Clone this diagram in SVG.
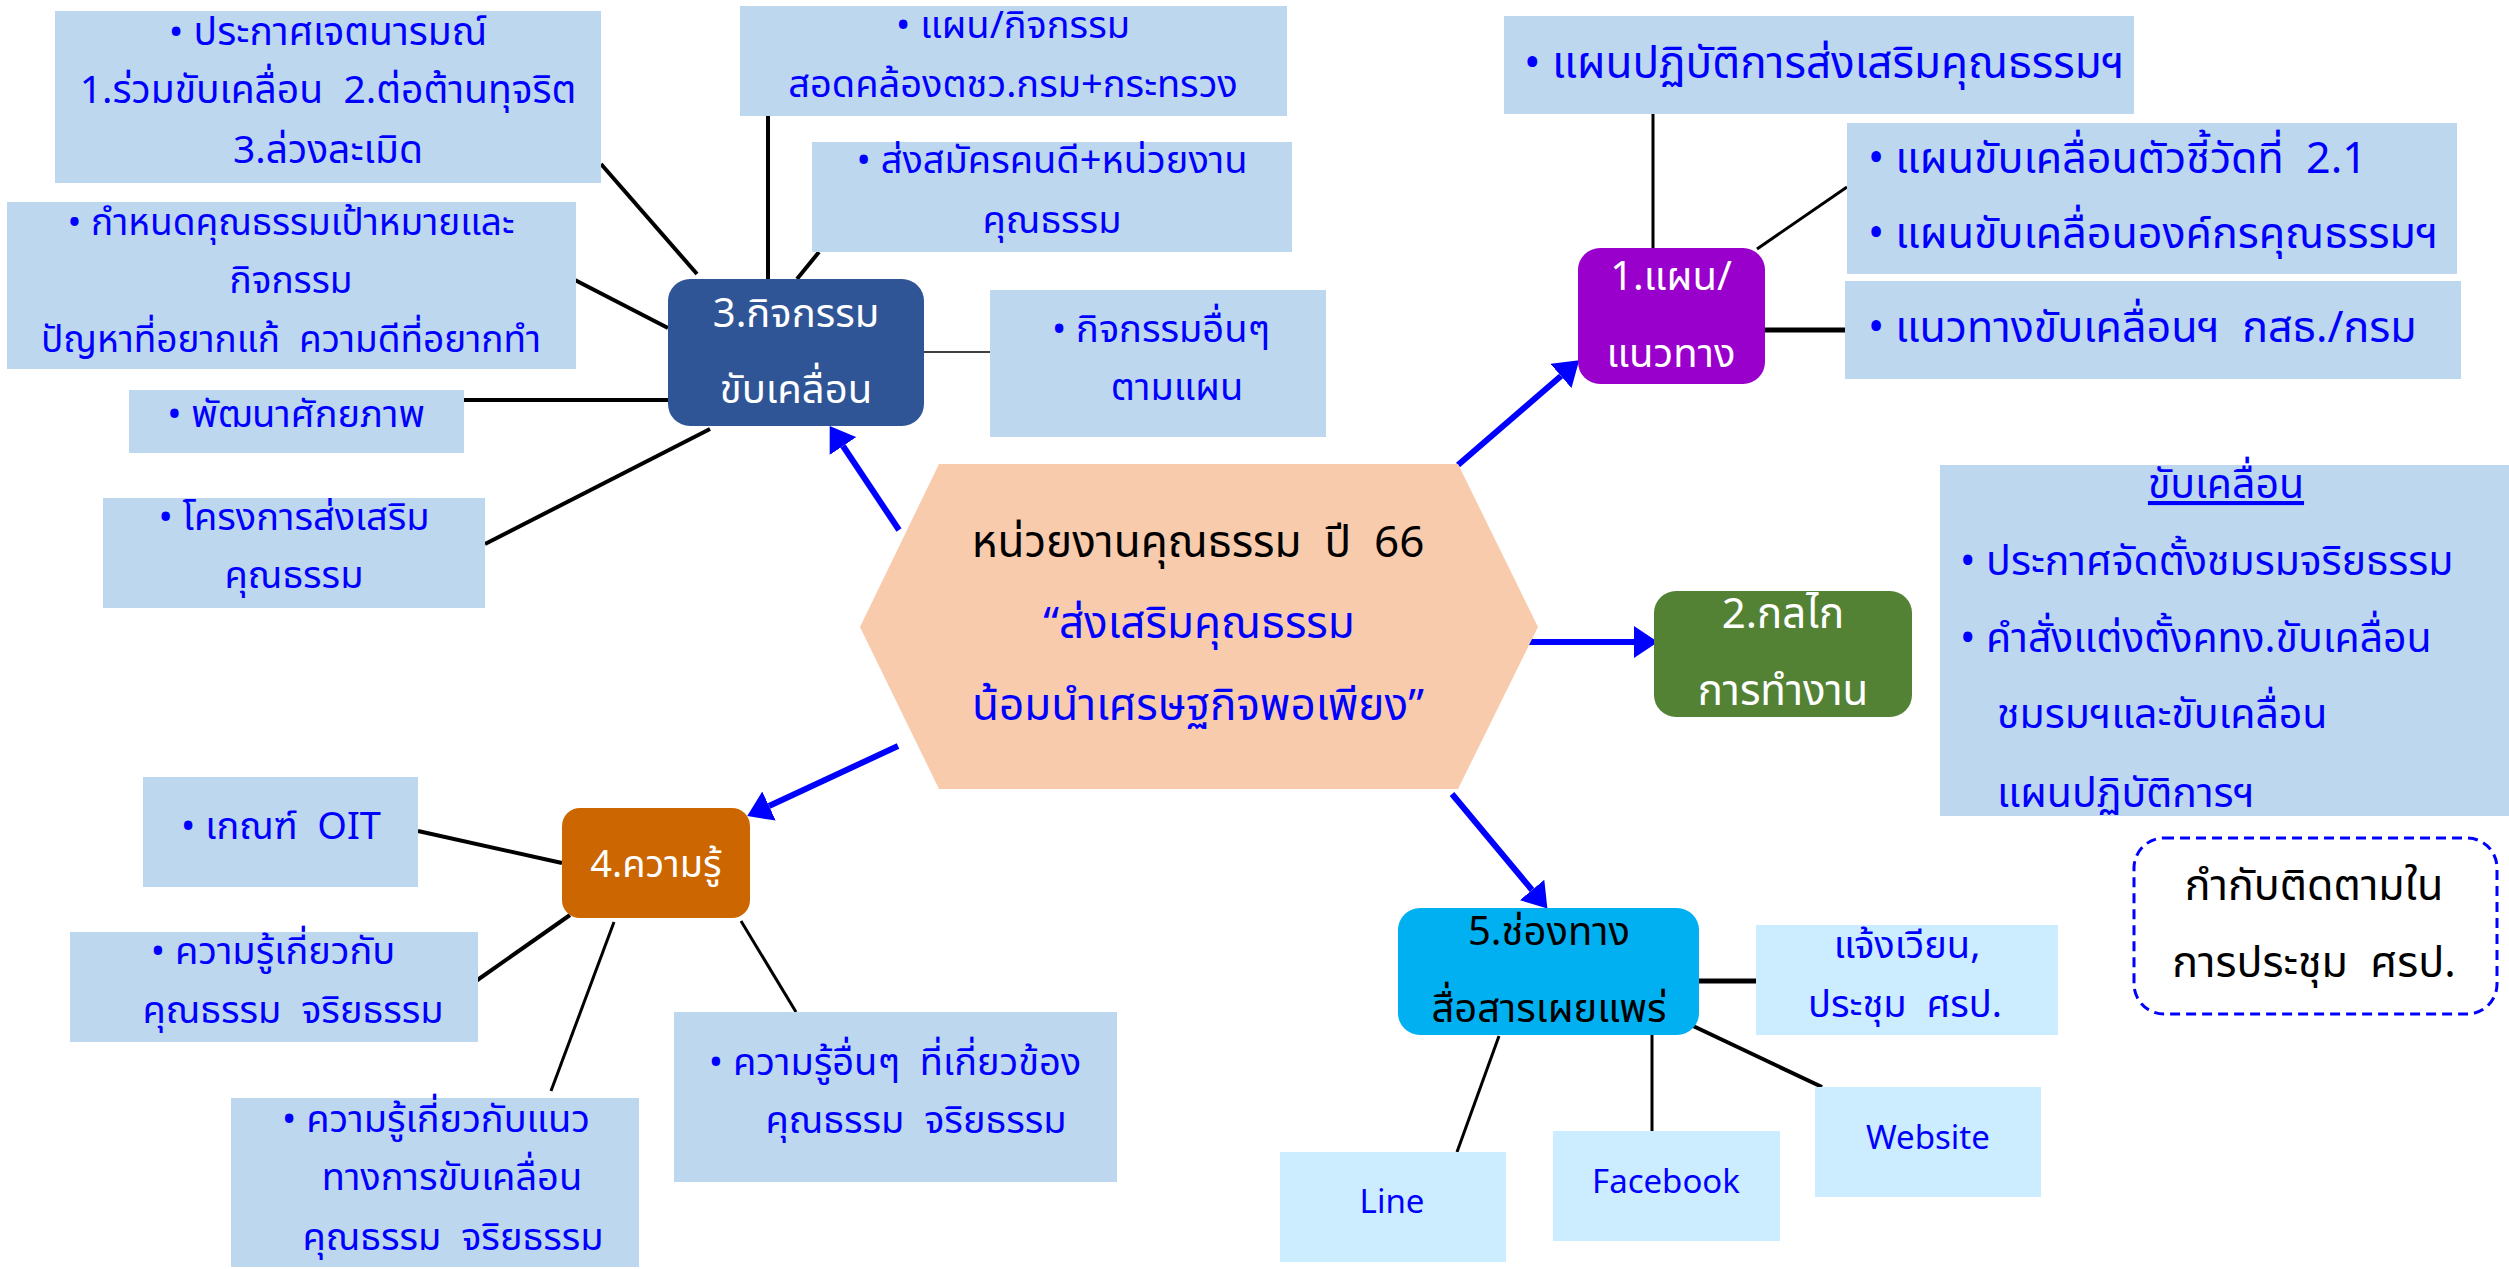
<svg xmlns="http://www.w3.org/2000/svg" width="2509" height="1269" viewBox="0 0 2509 1269" xml:space="preserve">
<style>
text{font-family:'Noto Sans Thai','Noto Sans','DejaVu Sans',sans-serif;font-size:38px;white-space:pre}
.b{fill:#0000FF}
.w{fill:#FFFFFF}
.k{fill:#000000}
.m{text-anchor:middle}
.f37{font-size:37px}
.f39{font-size:39px}
.f40{font-size:40px}
.f41{font-size:41px}
.f42{font-size:42px}
.f43{font-size:43px}
.f44{font-size:44px}
.lat{font-size:33px}
.box{fill:#BDD7EE}
.cbox{fill:#CCECFF}
.ln{stroke:#000;fill:none}
.ar{stroke:#0000FF;stroke-width:6;fill:none}
</style>
<defs>
<marker id="ah" markerUnits="userSpaceOnUse" markerWidth="24" markerHeight="32" viewBox="0 0 24 32" refX="0" refY="16" orient="auto"><path d="M0,0 L24,16 L0,32 z" fill="#0000FF"/></marker>
</defs>
<g id="connectors">
<line class="ln" stroke-width="4" x1="601" y1="164" x2="697" y2="274"/>
<line class="ln" stroke-width="4" x1="768" y1="115" x2="768" y2="279"/>
<line class="ln" stroke-width="4" x1="819" y1="252" x2="797" y2="279"/>
<line class="ln" stroke-width="4" x1="573" y1="279" x2="668" y2="328"/>
<line class="ln" stroke-width="4" x1="462" y1="400" x2="668" y2="400"/>
<line class="ln" stroke-width="4" x1="485" y1="544" x2="710" y2="429"/>
<line class="ln" stroke-width="1.5" x1="924" y1="352" x2="993" y2="352"/>
<line class="ln" stroke-width="3" x1="1653" y1="114" x2="1653" y2="250"/>
<line class="ln" stroke-width="3" x1="1757" y1="249" x2="1847" y2="187"/>
<line class="ln" stroke-width="5" x1="1765" y1="330" x2="1845" y2="330"/>
<line class="ln" stroke-width="4" x1="418" y1="831" x2="562" y2="863"/>
<line class="ln" stroke-width="4" x1="476" y1="981" x2="570" y2="915"/>
<line class="ln" stroke-width="3" x1="551" y1="1091" x2="614" y2="922"/>
<line class="ln" stroke-width="3" x1="796" y1="1012" x2="741" y2="921"/>
<line class="ln" stroke-width="5" x1="1699" y1="981" x2="1756" y2="981"/>
<line class="ln" stroke-width="3" x1="1499" y1="1036" x2="1457" y2="1152"/>
<line class="ln" stroke-width="3" x1="1652" y1="1029" x2="1652" y2="1131"/>
<line class="ln" stroke-width="4" x1="1691" y1="1025" x2="1822" y2="1087"/>
<line class="ar" x1="899" y1="530" x2="843" y2="446" marker-end="url(#ah)"/>
<line class="ar" x1="1458" y1="465" x2="1561" y2="376" marker-end="url(#ah)"/>
<line class="ar" x1="1527" y1="642" x2="1634" y2="642" marker-end="url(#ah)"/>
<line class="ar" x1="898" y1="746" x2="769" y2="806" marker-end="url(#ah)"/>
<line class="ar" x1="1452" y1="794" x2="1532" y2="890" marker-end="url(#ah)"/>
</g>
<g id="center">
<polygon points="939,464 1458,464 1538,627 1458,789 939,789 860,627" fill="#F8CBAD"/>
<text class="k m f44" x="1198" y="557">หน่วยงานคุณธรรม  ปี  66</text>
<text class="b m f44" x="1199" y="638">“ส่งเสริมคุณธรรม</text>
<text class="b m f44" x="1198" y="720">น้อมนำเศรษฐกิจพอเพียง”</text>
</g>
<g id="node3">
<rect x="668" y="279" width="256" height="147" rx="22" fill="#2F5597"/>
<text class="w m f40" x="796" y="327">3.กิจกรรม</text>
<text class="w m f40" x="796" y="403">ขับเคลื่อน</text>
</g>
<g id="boxA">
<rect class="box" x="55" y="11" width="546" height="172"/>
<text class="b m f39" x="328" y="45">• ประกาศเจตนารมณ์</text>
<text class="b m f39" x="328" y="103">1.ร่วมขับเคลื่อน  2.ต่อต้านทุจริต</text>
<text class="b m f39" x="328" y="163">3.ล่วงละเมิด</text>
</g>
<g id="boxB">
<rect class="box" x="7" y="202" width="569" height="167"/>
<text class="b m f37" x="291" y="235">• กำหนดคุณธรรมเป้าหมายและ</text>
<text class="b m f37" x="291" y="293">กิจกรรม</text>
<text class="b m f37" x="291" y="352">ปัญหาที่อยากแก้  ความดีที่อยากทำ</text>
</g>
<g id="boxC">
<rect class="box" x="129" y="390" width="335" height="63"/>
<text class="b m" x="296" y="427">• พัฒนาศักยภาพ</text>
</g>
<g id="boxD">
<rect class="box" x="103" y="498" width="382" height="110"/>
<text class="b m" x="294" y="530">• โครงการส่งเสริม</text>
<text class="b m" x="294" y="588">คุณธรรม</text>
</g>
<g id="boxE">
<rect class="box" x="740" y="6" width="547" height="110"/>
<text class="b m" x="1013" y="38">• แผน/กิจกรรม</text>
<text class="b m" x="1013" y="97">สอดคล้องตชว.กรม+กระทรวง</text>
</g>
<g id="boxF">
<rect class="box" x="812" y="142" width="480" height="110"/>
<text class="b m" x="1052" y="173">• ส่งสมัครคนดี+หน่วยงาน</text>
<text class="b m" x="1052" y="233">คุณธรรม</text>
</g>
<g id="boxG">
<rect class="box" x="990" y="290" width="336" height="147"/>
<text class="b m" x="1161" y="342">• กิจกรรมอื่นๆ</text>
<text class="b m" x="1177" y="400">ตามแผน</text>
</g>
<g id="node1">
<rect x="1578" y="248" width="187" height="136" rx="22" fill="#9900CC"/>
<text class="w m f40" x="1671" y="290">1.แผน/</text>
<text class="w m f40" x="1671" y="367">แนวทาง</text>
</g>
<g id="boxH">
<rect class="box" x="1504" y="16" width="630" height="98"/>
<text class="b f44" x="1524" y="78">• แผนปฏิบัติการส่งเสริมคุณธรรมฯ</text>
</g>
<g id="boxI">
<rect class="box" x="1847" y="123" width="610" height="151"/>
<text class="b f43" x="1868" y="173">• แผนขับเคลื่อนตัวชี้วัดที่  2.1</text>
<text class="b f43" x="1868" y="248">• แผนขับเคลื่อนองค์กรคุณธรรมฯ</text>
</g>
<g id="boxJ">
<rect class="box" x="1845" y="281" width="616" height="98"/>
<text class="b f43" x="1868" y="342">• แนวทางขับเคลื่อนฯ  กสธ./กรม</text>
</g>
<g id="node2">
<rect x="1654" y="591" width="258" height="126" rx="22" fill="#548235"/>
<text class="w m f42" x="1783" y="628">2.กลไก</text>
<text class="w m f42" x="1783" y="705">การทำงาน</text>
</g>
<g id="boxK">
<rect class="box" x="1940" y="465" width="569" height="351"/>
<text class="b m f41" x="2226" y="498" text-decoration="underline">ขับเคลื่อน</text>
<text class="b f41" x="1960" y="575">• ประกาศจัดตั้งชมรมจริยธรรม</text>
<text class="b f41" x="1960" y="652">• คำสั่งแต่งตั้งคทง.ขับเคลื่อน</text>
<text class="b f41" x="1997" y="728">ชมรมฯและขับเคลื่อน</text>
<text class="b f41" x="1997" y="807">แผนปฏิบัติการฯ</text>
</g>
<g id="monitor">
<rect x="2134" y="838" width="363" height="176" rx="30" fill="none" stroke="#0000FF" stroke-width="3" stroke-dasharray="10,6"/>
<text class="k m f43" x="2314" y="900">กำกับติดตามใน</text>
<text class="k m f43" x="2314" y="977">การประชุม  ศรป.</text>
</g>
<g id="node4">
<rect x="562" y="808" width="188" height="110" rx="18" fill="#CC6600"/>
<text class="w m" x="656" y="877">4.ความรู้</text>
</g>
<g id="boxL">
<rect class="box" x="143" y="777" width="275" height="110"/>
<text class="b m" x="281" y="839">• เกณฑ์  OIT</text>
</g>
<g id="boxM">
<rect class="box" x="70" y="932" width="408" height="110"/>
<text class="b m" x="273" y="964">• ความรู้เกี่ยวกับ</text>
<text class="b m" x="293" y="1023">คุณธรรม  จริยธรรม</text>
</g>
<g id="boxN">
<rect class="box" x="231" y="1098" width="408" height="169"/>
<text class="b m" x="436" y="1132">• ความรู้เกี่ยวกับแนว</text>
<text class="b m" x="452" y="1190">ทางการขับเคลื่อน</text>
<text class="b m" x="453" y="1250">คุณธรรม  จริยธรรม</text>
</g>
<g id="boxO">
<rect class="box" x="674" y="1012" width="443" height="170"/>
<text class="b m" x="895" y="1075">• ความรู้อื่นๆ  ที่เกี่ยวข้อง</text>
<text class="b m" x="916" y="1133">คุณธรรม  จริยธรรม</text>
</g>
<g id="node5">
<rect x="1398" y="908" width="301" height="127" rx="22" fill="#00B0F0"/>
<text class="k m f40" x="1549" y="945">5.ช่องทาง</text>
<text class="k m f40" x="1549" y="1022">สื่อสารเผยแพร่</text>
</g>
<g id="boxP">
<rect class="cbox" x="1756" y="925" width="302" height="110"/>
<text class="b m" x="1907" y="958">แจ้งเวียน,</text>
<text class="b m" x="1905" y="1017">ประชุม  ศรป.</text>
</g>
<g id="boxQ">
<rect class="cbox" x="1280" y="1152" width="226" height="110"/>
<text class="b m lat" x="1392" y="1213">Line</text>
</g>
<g id="boxR">
<rect class="cbox" x="1553" y="1131" width="227" height="110"/>
<text class="b m lat" x="1666" y="1193">Facebook</text>
</g>
<g id="boxS">
<rect class="cbox" x="1815" y="1087" width="226" height="110"/>
<text class="b m lat" x="1928" y="1149">Website</text>
</g>
</svg>
